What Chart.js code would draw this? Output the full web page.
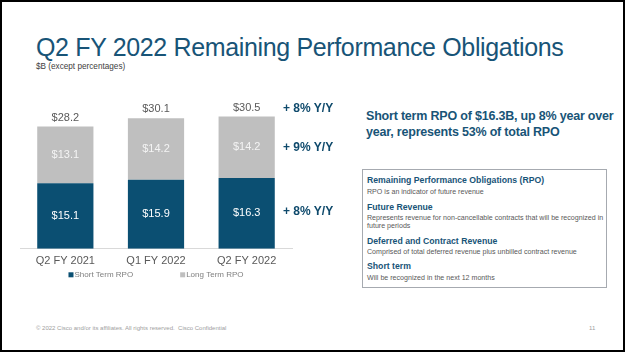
<!DOCTYPE html>
<html>
<head>
<meta charset="utf-8">
<script src="https://cdn.jsdelivr.net/npm/chart.js@4/dist/chart.umd.min.js"></script>
<style>
  html, body { margin: 0; padding: 0; background: #fff; }
  body { width: 626px; height: 353px; position: relative; overflow: hidden; font-family: "Liberation Sans", Arial, sans-serif; }
  .frame { position: absolute; left: 0; top: 0; width: 621px; height: 348px; border: 2px solid #000; }
  .txt { position: absolute; white-space: nowrap; }
  #title { left: 36px; top: 33px; font-size: 25px; letter-spacing: -0.35px; color: #185477; }
  #sub { left: 36px; top: 62px; font-size: 8.2px; color: #404040; }
  .yy { font-size: 12px; font-weight: bold; color: #0f4a6c; left: 283px; }
  #headline { left: 366px; top: 108px; font-size: 12.5px; font-weight: bold; color: #185477; line-height: 16px; letter-spacing: -0.2px; }
  #box { position: absolute; left: 362px; top: 169px; width: 243px; height: 117px; border: 1px solid #a6aab0; }
  .bh { position: absolute; left: 4px; font-size: 8.7px; font-weight: bold; color: #185477; white-space: nowrap; }
  .bt { position: absolute; left: 4px; font-size: 7.1px; color: #595959; white-space: nowrap; line-height: 8px; }
  #foot { left: 36px; top: 325px; font-size: 6px; color: #a0a0a0; }
  #page { left: 589px; top: 325px; font-size: 6px; color: #a0a0a0; }
  #wrap { position: absolute; left: 0; top: 90px; width: 300px; height: 200px; }
</style>
</head>
<body>
<div class="frame"></div>
<div class="txt" id="title">Q2 FY 2022 Remaining Performance Obligations</div>
<div class="txt" id="sub">$B (except percentages)</div>

<div id="wrap"><canvas id="rpoChart"></canvas></div>

<div class="txt yy" style="top:101px">+ 8% Y/Y</div>
<div class="txt yy" style="top:140px">+ 9% Y/Y</div>
<div class="txt yy" style="top:204px">+ 8% Y/Y</div>

<div class="txt" id="headline">Short term RPO of $16.3B, up 8% year over<br>year, represents 53% of total RPO</div>

<div id="box">
  <div class="bh" style="top:5px">Remaining Performance Obligations (RPO)</div>
  <div class="bt" style="top:18px">RPO is an indicator of future revenue</div>
  <div class="bh" style="top:32px">Future Revenue</div>
  <div class="bt" style="top:44px">Represents revenue for non-cancellable contracts that will be recognized in<br>future periods</div>
  <div class="bh" style="top:66px">Deferred and Contract Revenue</div>
  <div class="bt" style="top:78px">Comprised of total deferred revenue plus unbilled contract revenue</div>
  <div class="bh" style="top:91px">Short term</div>
  <div class="bt" style="top:104px">Will be recognized in the next 12 months</div>
</div>

<div class="txt" id="foot">© 2022 Cisco and/or its affiliates. All rights reserved.&nbsp;&nbsp;Cisco Confidential</div>
<div class="txt" id="page">11</div>

<script>
const categorias = ['Q2 FY 2021', 'Q1 FY 2022', 'Q2 FY 2022'];
const shortTerm = [15.1, 15.9, 16.3];
const longTerm = [13.1, 14.2, 14.2];
const totales = [28.2, 30.1, 30.5];

const AZUL = '#0b4f72';
const GRIS = '#bfbfbf';
const FUENTE = '"Liberation Sans", Arial, sans-serif';

// etiquetas dentro de las barras y totales arriba
const etiquetasPlugin = {
    id: 'etiquetas',
    afterDatasetsDraw(chart) {
        const ctx = chart.ctx;
        ctx.save();
        ctx.textAlign = 'center';
        ctx.textBaseline = 'middle';
        ctx.font = '11px ' + FUENTE;
        chart.data.datasets.forEach((ds, di) => {
            const meta = chart.getDatasetMeta(di);
            meta.data.forEach((bar, i) => {
                const mid = (bar.y + bar.base) / 2;
                ctx.fillStyle = di === 0 ? '#ffffff' : '#f4f4f4';
                ctx.fillText('$' + ds.data[i].toFixed(1), bar.x, mid);
            });
        });
        ctx.fillStyle = '#595959';
        chart.getDatasetMeta(1).data.forEach((bar, i) => {
            ctx.fillText('$' + totales[i].toFixed(1), bar.x, chart.scales.y.getPixelForValue(totales[i]) - 9);
        });
        ctx.restore();
    }
};

// leyenda pequeña debajo de las etiquetas del eje (como en la diapositiva)
const leyendaPlugin = {
    id: 'leyendaRPO',
    afterDraw(chart) {
        const ctx = chart.ctx;
        const area = chart.chartArea;
        const y = area.bottom + 26;
        const gap = 47;
        ctx.save();
        ctx.font = '8px ' + FUENTE;
        ctx.textBaseline = 'middle';
        const items = chart.data.datasets.map(ds => ({
            text: ds.label,
            color: ds.backgroundColor,
            w: 6 + ctx.measureText(ds.label).width
        }));
        const total = items.reduce((s, it) => s + it.w, 0) + gap * (items.length - 1);
        let x = (area.left + area.right) / 2 - total / 2;
        items.forEach(it => {
            ctx.fillStyle = it.color;
            ctx.fillRect(x, y - 2.5, 5, 5);
            ctx.fillStyle = '#7f7f7f';
            ctx.fillText(it.text, x + 6, y);
            x += it.w + gap;
        });
        ctx.restore();
    }
};

new Chart(document.getElementById('rpoChart'), {
    type: 'bar',
    data: {
        labels: categorias,
        datasets: [
            { label: 'Short Term RPO', data: shortTerm, backgroundColor: AZUL, barPercentage: 0.62, categoryPercentage: 1 },
            { label: 'Long Term RPO', data: longTerm, backgroundColor: GRIS, barPercentage: 0.62, categoryPercentage: 1 }
        ]
    },
    options: {
        responsive: true,
        maintainAspectRatio: false,
        animation: false,
        layout: { padding: { left: 20, right: 8, top: 7, bottom: 16 } },
        scales: {
            x: {
                stacked: true,
                grid: { display: false, drawTicks: false },
                border: { display: true, color: '#d9d9d9' },
                ticks: { color: '#595959', font: { size: 11, family: FUENTE }, padding: 6 }
            },
            y: {
                stacked: true,
                display: false,
                min: 0,
                max: 35
            }
        },
        plugins: {
            tooltip: { enabled: false },
            legend: { display: false }
        }
    },
    plugins: [etiquetasPlugin, leyendaPlugin]
});
</script>
</body>
</html>
